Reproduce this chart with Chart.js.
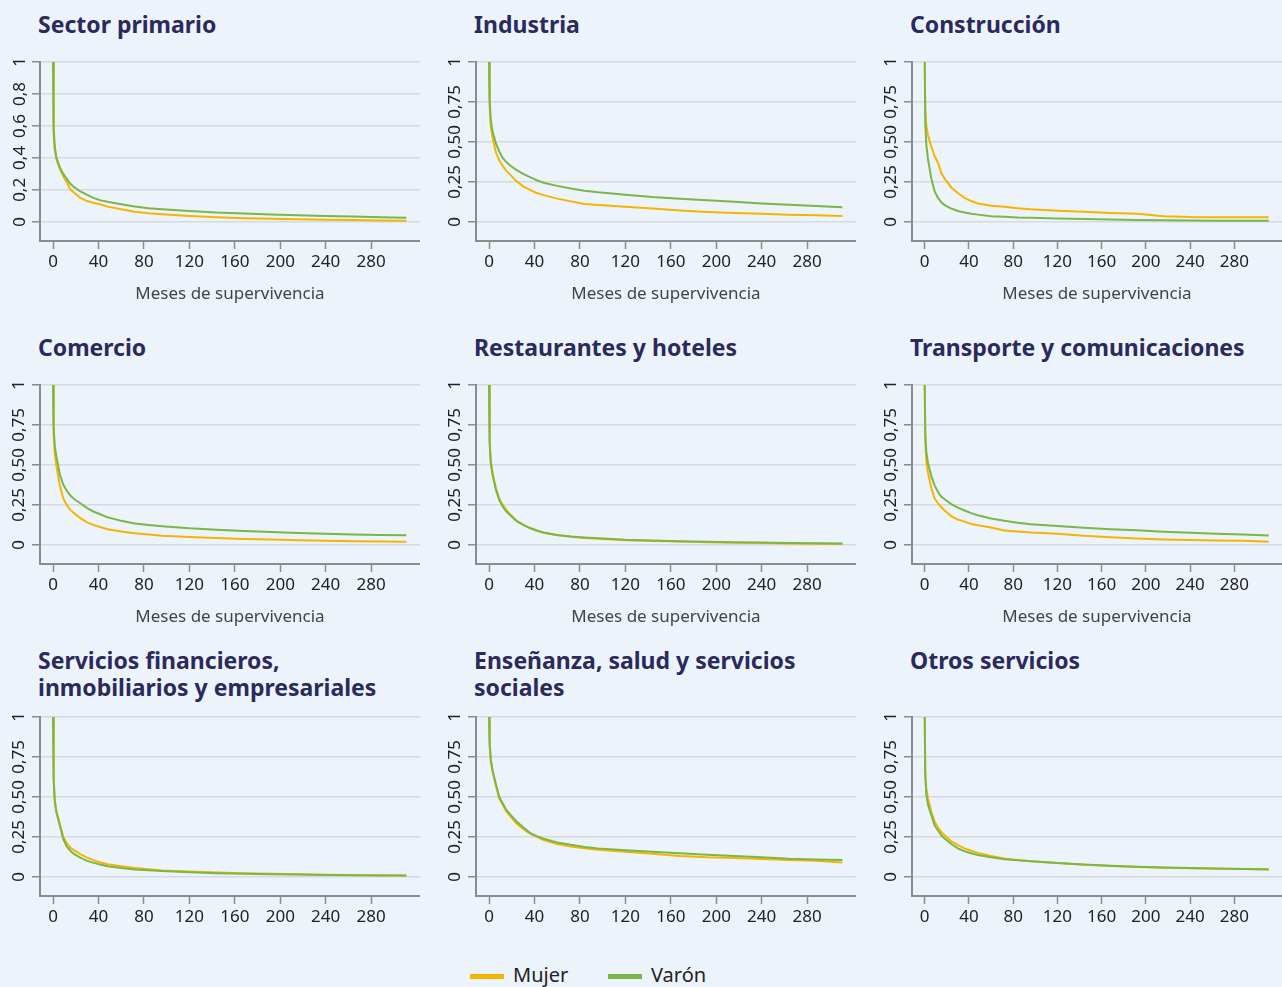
<!DOCTYPE html>
<html>
<head>
<meta charset="utf-8">
<script src="https://cdn.jsdelivr.net/npm/chart.js@4/dist/chart.umd.min.js"></script>
<style>
  body { margin: 0; background: #edf3fb; width: 1282px; height: 987px; overflow: hidden; position: relative; font-family: 'Noto Sans', sans-serif; }
  canvas { position: absolute; }
  .titulo { position: absolute; font-weight: 700; font-size: 23px; line-height: 27px; color: #2b2a5c; white-space: nowrap; }
  .leyenda { position: absolute; top: 962px; font-size: 20px; color: #222; line-height: 26px; }
  .leyenda span { display: inline-block; width: 34px; height: 5px; vertical-align: middle; margin-right: 9px; }
</style>
</head>
<body>
<div class="leyenda" style="left:470px"><span style="background:#f5b400"></span>Mujer</div>
<div class="leyenda" style="left:608px"><span style="background:#7ab648"></span>Varón</div>
<script>
// meses de supervivencia (eje x común)
const months = [0, 0.5, 1.5, 3, 6, 9, 12, 15, 18, 24, 30, 36, 42, 48, 60, 72, 84, 96, 120, 144, 168, 192, 216, 240, 264, 288, 311];

const titulos = [
  "Sector primario", "Industria", "Construcción",
  "Comercio", "Restaurantes y hoteles", "Transporte y comunicaciones",
  "Servicios financieros,\ninmobiliarios y empresariales", "Enseñanza, salud y servicios\nsociales", "Otros servicios"
];

const varonPrimario = [1, 0.59, 0.47, 0.40, 0.34, 0.30, 0.27, 0.24, 0.22, 0.19, 0.168, 0.148, 0.134, 0.125, 0.11, 0.096, 0.085, 0.079, 0.068, 0.058, 0.052, 0.046, 0.041, 0.037, 0.033, 0.029, 0.025];
const mujerPrimario = [1, 0.55, 0.45, 0.39, 0.33, 0.285, 0.25, 0.205, 0.185, 0.15, 0.13, 0.118, 0.108, 0.095, 0.078, 0.063, 0.053, 0.047, 0.036, 0.028, 0.023, 0.019, 0.016, 0.013, 0.011, 0.008, 0.006];
const varonIndustria = [1, 0.765, 0.64, 0.57, 0.49, 0.44, 0.40, 0.375, 0.355, 0.325, 0.30, 0.28, 0.26, 0.245, 0.225, 0.208, 0.195, 0.185, 0.17, 0.155, 0.145, 0.135, 0.125, 0.115, 0.107, 0.099, 0.091];
const mujerIndustria = [1, 0.72, 0.60, 0.53, 0.435, 0.385, 0.35, 0.32, 0.30, 0.255, 0.222, 0.20, 0.18, 0.167, 0.145, 0.128, 0.112, 0.105, 0.094, 0.083, 0.071, 0.062, 0.055, 0.05, 0.045, 0.041, 0.037];
const varonConstruccion = [1, 0.61, 0.48, 0.39, 0.27, 0.19, 0.15, 0.122, 0.105, 0.083, 0.068, 0.058, 0.05, 0.045, 0.035, 0.031, 0.027, 0.025, 0.021, 0.018, 0.015, 0.012, 0.01, 0.008, 0.007, 0.006, 0.006];
const mujerConstruccion = [1, 0.715, 0.60, 0.54, 0.47, 0.41, 0.37, 0.305, 0.27, 0.215, 0.18, 0.15, 0.13, 0.115, 0.10, 0.094, 0.085, 0.078, 0.069, 0.063, 0.055, 0.05, 0.035, 0.03, 0.029, 0.029, 0.029];
const varonComercio = [1, 0.74, 0.62, 0.55, 0.44, 0.375, 0.34, 0.31, 0.29, 0.26, 0.23, 0.207, 0.19, 0.172, 0.15, 0.134, 0.124, 0.116, 0.103, 0.095, 0.087, 0.08, 0.074, 0.069, 0.065, 0.062, 0.06];
const mujerComercio = [1, 0.69, 0.57, 0.49, 0.37, 0.29, 0.25, 0.22, 0.20, 0.167, 0.14, 0.123, 0.11, 0.097, 0.083, 0.072, 0.064, 0.057, 0.049, 0.042, 0.037, 0.033, 0.029, 0.026, 0.023, 0.021, 0.019];
const varonRestaurantes = [1, 0.64, 0.51, 0.44, 0.345, 0.28, 0.24, 0.21, 0.19, 0.15, 0.125, 0.105, 0.09, 0.077, 0.062, 0.052, 0.046, 0.041, 0.032, 0.027, 0.023, 0.019, 0.016, 0.014, 0.012, 0.01, 0.008];
const mujerRestaurantes = [1, 0.65, 0.53, 0.455, 0.355, 0.29, 0.25, 0.22, 0.195, 0.152, 0.127, 0.105, 0.088, 0.076, 0.06, 0.05, 0.043, 0.038, 0.029, 0.024, 0.02, 0.016, 0.013, 0.011, 0.009, 0.007, 0.005];
const varonTransporte = [1, 0.70, 0.58, 0.51, 0.43, 0.37, 0.33, 0.30, 0.285, 0.255, 0.233, 0.215, 0.198, 0.185, 0.165, 0.15, 0.138, 0.128, 0.117, 0.107, 0.098, 0.091, 0.082, 0.075, 0.069, 0.064, 0.058];
const mujerTransporte = [1, 0.64, 0.52, 0.45, 0.354, 0.29, 0.26, 0.235, 0.215, 0.18, 0.158, 0.145, 0.13, 0.122, 0.108, 0.09, 0.083, 0.077, 0.069, 0.056, 0.047, 0.039, 0.034, 0.03, 0.027, 0.025, 0.019];
const varonFinancieros = [1, 0.61, 0.47, 0.40, 0.32, 0.235, 0.19, 0.165, 0.145, 0.12, 0.10, 0.087, 0.075, 0.066, 0.055, 0.046, 0.041, 0.036, 0.028, 0.022, 0.019, 0.016, 0.014, 0.011, 0.01, 0.009, 0.008];
const mujerFinancieros = [1, 0.62, 0.48, 0.41, 0.33, 0.25, 0.21, 0.185, 0.168, 0.142, 0.12, 0.103, 0.09, 0.079, 0.066, 0.055, 0.047, 0.04, 0.033, 0.027, 0.023, 0.019, 0.016, 0.013, 0.011, 0.01, 0.009];
const varonEnsenanza = [1, 0.84, 0.74, 0.67, 0.58, 0.50, 0.46, 0.42, 0.395, 0.348, 0.31, 0.275, 0.255, 0.238, 0.215, 0.20, 0.187, 0.178, 0.166, 0.157, 0.148, 0.138, 0.13, 0.123, 0.113, 0.108, 0.106];
const mujerEnsenanza = [1, 0.82, 0.72, 0.66, 0.57, 0.49, 0.45, 0.41, 0.385, 0.335, 0.30, 0.27, 0.25, 0.23, 0.205, 0.19, 0.178, 0.17, 0.157, 0.145, 0.13, 0.122, 0.118, 0.112, 0.105, 0.10, 0.09];
const varonOtros = [1, 0.63, 0.51, 0.45, 0.385, 0.32, 0.29, 0.26, 0.24, 0.205, 0.178, 0.16, 0.147, 0.137, 0.122, 0.11, 0.103, 0.097, 0.087, 0.077, 0.07, 0.063, 0.058, 0.055, 0.052, 0.049, 0.046];
const mujerOtros = [1, 0.66, 0.55, 0.49, 0.405, 0.345, 0.31, 0.28, 0.26, 0.222, 0.198, 0.178, 0.163, 0.15, 0.13, 0.114, 0.105, 0.098, 0.087, 0.075, 0.068, 0.062, 0.057, 0.054, 0.051, 0.049, 0.048];

const varon = [varonPrimario, varonIndustria, varonConstruccion, varonComercio, varonRestaurantes, varonTransporte, varonFinancieros, varonEnsenanza, varonOtros];
const mujer = [mujerPrimario, mujerIndustria, mujerConstruccion, mujerComercio, mujerRestaurantes, mujerTransporte, mujerFinancieros, mujerEnsenanza, mujerOtros];

const xTicks = [0, 40, 80, 120, 160, 200, 240, 280];
const yTicksPrimario = [0, 0.2, 0.4, 0.6, 0.8, 1];
const yLabelsPrimario = ["0", "0,2", "0,4", "0,6", "0,8", "1"];
const yTicks = [0, 0.25, 0.5, 0.75, 1];
const yLabels = ["0", "0,25", "0,50", "0,75", "1"];

Chart.defaults.font.family = "'Noto Sans', sans-serif";
Chart.defaults.color = "#222";

const axisX = [40, 476, 912];
const rightX = [420, 856, 1282];
const chartTop = [62, 385, 717];
const titleTop = [11, 334, 647];
const areaH = 179;
const padTop = 10;
const yW = 40;
const gris = "#8c8c8c";

titulos.forEach((t, i) => {
	const col = i % 3, row = Math.floor(i / 3);

	const div = document.createElement("div");
	div.className = "titulo";
	div.style.left = (axisX[col] - 2) + "px";
	div.style.top = titleTop[row] + "px";
	div.innerHTML = t.replace("\n", "<br>");
	document.body.appendChild(div);

	const xH = row < 2 ? 63 : 40;
	const canvas = document.createElement("canvas");
	const left = axisX[col] - yW;
	canvas.width = rightX[col] - left;
	canvas.height = padTop + areaH + xH;
	canvas.style.left = left + "px";
	canvas.style.top = (chartTop[row] - padTop) + "px";
	document.body.appendChild(canvas);

	const primario = i === 0;
	const yt = primario ? yTicksPrimario : yTicks;
	const yl = primario ? yLabelsPrimario : yLabels;

	new Chart(canvas.getContext("2d"), {
		type: "line",
		data: {
			labels: months,
			datasets: [
				{ label: "Varón", data: varon[i], borderColor: "#7ab648", backgroundColor: "#7ab648" },
				{ label: "Mujer", data: mujer[i], borderColor: "#f5b400", backgroundColor: "#f5b400" },
			],
		},
		options: {
			responsive: false,
			animation: false,
			layout: { padding: { top: padTop, left: 0, right: 0, bottom: 0 } },
			elements: {
				line: { borderWidth: 2, tension: 0 },
				point: { radius: 0 },
			},
			plugins: { legend: { display: false }, tooltip: { enabled: false } },
			scales: {
				x: {
					type: "linear",
					min: -11.5,
					max: 323,
					afterBuildTicks: (s) => { s.ticks = xTicks.map((v) => ({ value: v })); },
					afterFit: (s) => { s.height = xH; s.paddingLeft = 0; s.paddingRight = 0; },
					ticks: { font: { size: 17 }, padding: 3, maxRotation: 0, color: "#222" },
					grid: { drawOnChartArea: false, tickLength: 8, tickColor: gris, tickWidth: 1.5 },
					border: { color: gris, width: 2 },
					title: {
						display: row < 2,
						text: "Meses de supervivencia",
						color: "#444",
						font: { size: 17 },
						padding: { top: 0, bottom: 0 },
					},
				},
				y: {
					min: -0.12,
					max: 1,
					afterBuildTicks: (s) => { s.ticks = yt.map((v) => ({ value: v })); },
					afterFit: (s) => { s.width = yW; s.paddingTop = 0; s.paddingBottom = 0; },
					ticks: {
						font: { size: 17 },
						color: "#222",
						minRotation: 90,
						maxRotation: 90,
						crossAlign: "center",
						padding: primario ? 0 : -4,
						callback: (v, idx) => yl[idx],
					},
					grid: { color: "#d6dae0", lineWidth: 1.5, tickLength: 8, tickColor: gris },
					border: { color: gris, width: 2 },
				},
			},
		},
	});
});
</script>
</body>
</html>
